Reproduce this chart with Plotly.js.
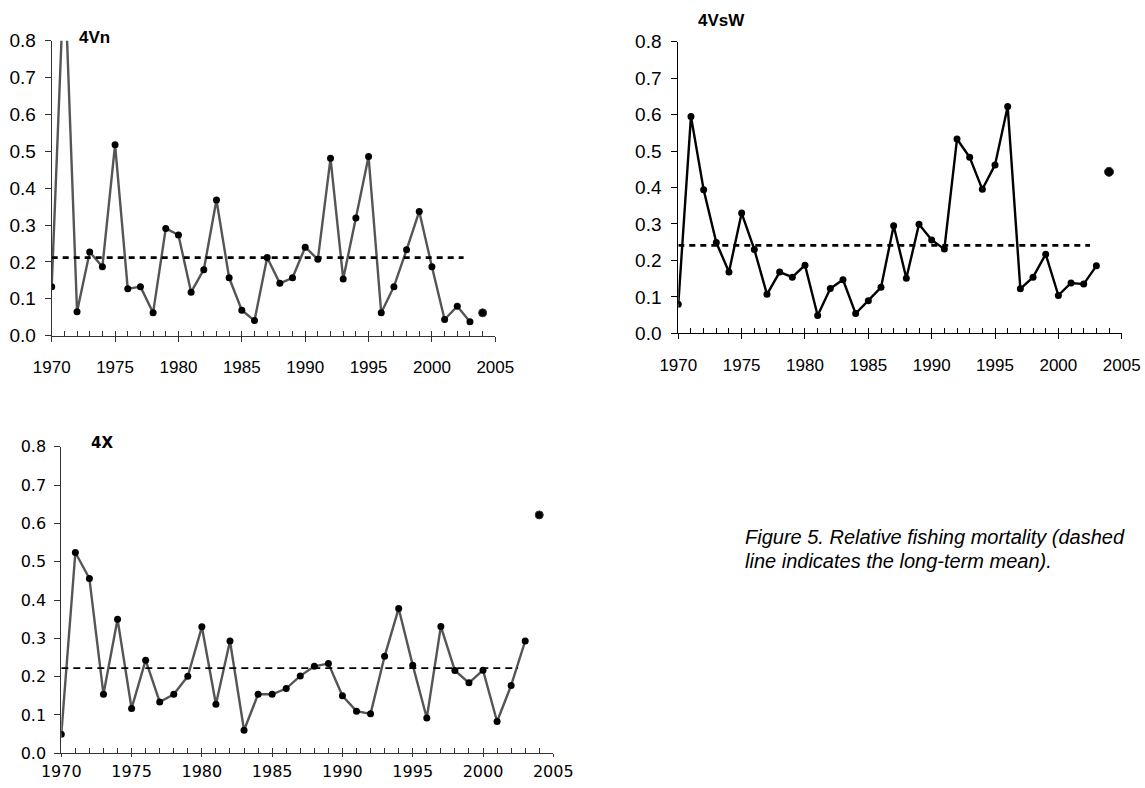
<!DOCTYPE html>
<html>
<head>
<meta charset="utf-8">
<script src="https://cdn.plot.ly/plotly-3.0.1.min.js"></script>
<style>html,body{margin:0;padding:0;background:#fff;}#chart{width:1145px;height:788px;}</style>
</head>
<body>
<div id="chart"></div>
<script>
// ---- data ----
const years = [1970,1971,1972,1973,1974,1975,1976,1977,1978,1979,1980,1981,1982,1983,1984,1985,1986,1987,1988,1989,1990,1991,1992,1993,1994,1995,1996,1997,1998,1999,2000,2001,2002,2003];
const f4Vn = [0.133,1.00,0.065,0.227,0.187,0.518,0.127,0.133,0.062,0.291,0.273,0.118,0.179,0.368,0.157,0.069,0.041,0.212,0.142,0.157,0.240,0.207,0.481,0.154,0.319,0.486,0.062,0.133,0.233,0.337,0.187,0.044,0.080,0.038];
const f4VsW = [0.080,0.595,0.394,0.249,0.168,0.330,0.230,0.107,0.168,0.154,0.187,0.049,0.123,0.147,0.054,0.089,0.126,0.295,0.151,0.299,0.256,0.231,0.533,0.483,0.395,0.462,0.622,0.122,0.154,0.217,0.104,0.138,0.135,0.185];
const f4X = [0.050,0.524,0.456,0.154,0.350,0.117,0.243,0.134,0.154,0.201,0.330,0.128,0.293,0.060,0.154,0.154,0.169,0.202,0.227,0.234,0.150,0.110,0.103,0.253,0.378,0.230,0.092,0.331,0.216,0.184,0.217,0.083,0.177,0.293];
const lastYear = [2004];
const last4Vn = [0.062];
const last4VsW = [0.443];
const last4X = [0.622];
const mean4Vn = 0.212;
const mean4VsW = 0.241;
const mean4X = 0.222;
const meanSpan = [1970, 2002.5];
const majorTicks = [1970,1975,1980,1985,1990,1995,2000,2005];
const panelTitles = ["4Vn","4VsW","4X"];
const captionLines = ["Figure 5. Relative fishing mortality (dashed","line indicates the long-term mean)."];

const W = 1145, H = 788;
const px = v => v / W;
const py = v => 1 - v / H;

const arial = "Liberation Sans, Arial, sans-serif";
const dejavu = "DejaVu Sans, sans-serif";

function seriesTraces(xa, ya, vals, lastVal, meanVal, lineColor, msize, lastSize, dashW, dashPat) {
  return [
    {x: years, y: vals, xaxis: xa, yaxis: ya, type: 'scatter', mode: 'lines+markers',
     line: {color: lineColor, width: 2.4}, marker: {color: '#000', size: msize}, hoverinfo: 'skip'},
    {x: lastYear, y: lastVal, xaxis: xa, yaxis: ya, type: 'scatter', mode: 'markers',
     marker: {color: '#000', size: lastSize, line: {color: '#333', width: 1}}, hoverinfo: 'skip'},
    {x: meanSpan, y: [meanVal, meanVal], xaxis: xa, yaxis: ya, type: 'scatter', mode: 'lines',
     line: {color: '#000', width: dashW, dash: dashPat}, hoverinfo: 'skip'}
  ];
}

const traces = [].concat(
  seriesTraces('x', 'y', f4Vn, last4Vn, mean4Vn, '#555555', 7, 8, 2.8, '6px,5px'),
  seriesTraces('x2', 'y2', f4VsW, last4VsW, mean4VsW, '#000000', 7, 9, 2.8, '6px,5px'),
  seriesTraces('x3', 'y3', f4X, last4X, mean4X, '#555555', 7, 8, 1.8, '7px,5px'),
  [{x: [1970], y: [0], xaxis: 'x4', yaxis: 'y', mode: 'markers', marker: {opacity: 0}, hoverinfo: 'skip'},
   {x: [1970], y: [0], xaxis: 'x5', yaxis: 'y2', mode: 'markers', marker: {opacity: 0}, hoverinfo: 'skip'},
   {x: [1970], y: [0], xaxis: 'x6', yaxis: 'y3', mode: 'markers', marker: {opacity: 0}, hoverinfo: 'skip'}]
);

function xMain(domain, anchor, font, standoff, color, tl) {
  return {domain: domain, anchor: anchor, range: [1970, 2005], tickmode: 'array', tickvals: majorTicks,
    ticks: 'outside', ticklen: tl, tickwidth: 1, tickcolor: color, showline: true, linecolor: color, linewidth: 1,
    showgrid: false, zeroline: false, tickfont: font, ticklabelstandoff: standoff, fixedrange: true};
}
function xMinor(over, anchor, color) {
  return {overlaying: over, anchor: anchor, range: [1970, 2005], tick0: 1970, dtick: 1, ticks: 'inside',
    ticklen: 5, tickwidth: 1, tickcolor: color, showticklabels: false, showline: false, showgrid: false,
    zeroline: false, fixedrange: true};
}
function yAx(domain, anchor, font, standoff, color) {
  return {domain: domain, anchor: anchor, range: [0, 0.8], dtick: 0.1, tick0: 0, tickformat: '.1f',
    ticks: 'outside', ticklen: 6, tickwidth: 1, tickcolor: color, showline: true, linecolor: color, linewidth: 1,
    showgrid: false, zeroline: false, tickfont: font, ticklabelstandoff: standoff, fixedrange: true};
}

const fy = {family: arial, size: 19, color: '#000'};
const fx = {family: arial, size: 17, color: '#000'};
const f3y = {family: dejavu, size: 16, color: '#000'};
const f3x = {family: dejavu, size: 16, color: '#000'};

const layout = {
  width: W, height: H, margin: {l: 0, r: 0, t: 0, b: 0}, showlegend: false,
  paper_bgcolor: '#fff', plot_bgcolor: 'rgba(0,0,0,0)',
  xaxis: xMain([px(51.7), px(495.3)], 'y', fx, 11, '#333', 5),
  yaxis: yAx([py(335.7), py(40.7)], 'x', fy, 5, '#333'),
  xaxis2: xMain([px(678.3), px(1121.7)], 'y2', fx, 11, '#000', 5),
  yaxis2: yAx([py(333.3), py(41.7)], 'x2', fy, 6, '#000'),
  xaxis3: xMain([px(61.3), px(553.3)], 'y3', f3x, 0, '#333', 3),
  yaxis3: yAx([py(753.3), py(446.7)], 'x3', f3y, 5, '#333'),
  xaxis4: xMinor('x', 'y', '#333'),
  xaxis5: xMinor('x2', 'y2', '#000'),
  xaxis6: xMinor('x3', 'y3', '#333'),
  annotations: [
    {text: '<b>' + panelTitles[0] + '</b>', xref: 'paper', yref: 'paper', x: px(77), y: py(38), xanchor: 'left', yanchor: 'middle', showarrow: false, font: {family: arial, size: 17, color: '#000'}},
    {text: '<b>' + panelTitles[1] + '</b>', xref: 'paper', yref: 'paper', x: px(696), y: py(20.5), xanchor: 'left', yanchor: 'middle', showarrow: false, font: {family: arial, size: 17, color: '#000'}},
    {text: '<b>' + panelTitles[2] + '</b>', xref: 'paper', yref: 'paper', x: px(89), y: py(443), xanchor: 'left', yanchor: 'middle', showarrow: false, font: {family: dejavu, size: 15, color: '#000'}},
    {text: '<i>' + captionLines[0] + '</i>', xref: 'paper', yref: 'paper', x: px(743), y: py(537), xanchor: 'left', yanchor: 'middle', showarrow: false, font: {family: arial, size: 20, color: '#000'}},
    {text: '<i>' + captionLines[1] + '</i>', xref: 'paper', yref: 'paper', x: px(743), y: py(561), xanchor: 'left', yanchor: 'middle', showarrow: false, font: {family: arial, size: 20, color: '#000'}}
  ]
};

Plotly.newPlot('chart', traces, layout, {staticPlot: true, displayModeBar: false});
</script>
</body>
</html>
